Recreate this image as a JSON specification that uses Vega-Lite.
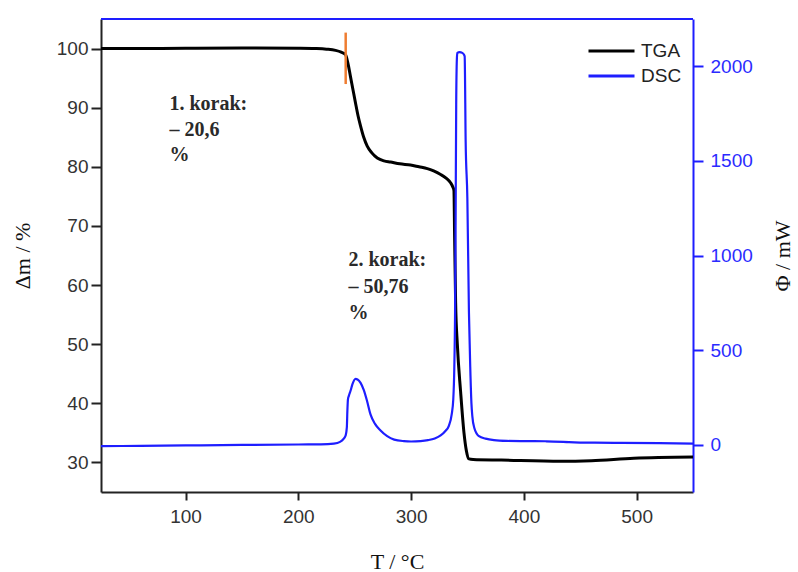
{
  "$schema": "https://vega.github.io/schema/vega-lite/v6.json",
  "width": 592,
  "height": 473,
  "autosize": {"type": "none"},
  "padding": {"left": 101, "top": 19, "right": 105, "bottom": 80},
  "background": "white",
  "config": {
    "view": {"stroke": null},
    "axis": {"grid": false, "labelFont": "Liberation Sans", "labelFontSize": 19, "titleFont": "Liberation Serif", "titleFontSize": 22, "titleFontWeight": "normal", "titleColor": "#111"}
  },
  "datasets": {
    "tga": [
      {"T": 25, "dm": 100.0}, {"T": 60, "dm": 100.0}, {"T": 100, "dm": 100.05}, {"T": 150, "dm": 100.1},
      {"T": 200, "dm": 100.05}, {"T": 215, "dm": 100.0}, {"T": 225, "dm": 99.9}, {"T": 233, "dm": 99.7},
      {"T": 238, "dm": 99.4}, {"T": 241.8, "dm": 99.0}, {"T": 244, "dm": 97.5}, {"T": 246.2, "dm": 95.3},
      {"T": 248.5, "dm": 93.0}, {"T": 250.7, "dm": 90.8}, {"T": 253, "dm": 88.6}, {"T": 255.2, "dm": 86.9},
      {"T": 258, "dm": 85.0}, {"T": 261.1, "dm": 83.5}, {"T": 265, "dm": 82.4}, {"T": 270, "dm": 81.5},
      {"T": 276, "dm": 81.0}, {"T": 281.8, "dm": 80.8}, {"T": 290, "dm": 80.5}, {"T": 299.5, "dm": 80.3},
      {"T": 307, "dm": 80.0}, {"T": 314.4, "dm": 79.7}, {"T": 320, "dm": 79.3}, {"T": 326.2, "dm": 78.7},
      {"T": 331, "dm": 78.1}, {"T": 335, "dm": 77.3}, {"T": 337, "dm": 76.6}, {"T": 338, "dm": 76.0},
      {"T": 338.6, "dm": 68}, {"T": 339.5, "dm": 57}, {"T": 341, "dm": 50}, {"T": 343.9, "dm": 42},
      {"T": 346.9, "dm": 35}, {"T": 349, "dm": 32}, {"T": 351.3, "dm": 30.6}, {"T": 355, "dm": 30.5},
      {"T": 380, "dm": 30.4}, {"T": 432.7, "dm": 30.2}, {"T": 460, "dm": 30.3}, {"T": 497.5, "dm": 30.7},
      {"T": 550, "dm": 30.9}
    ],
    "dsc": [
      {"T": 25, "phi": -8}, {"T": 60, "phi": -6}, {"T": 100, "phi": -4}, {"T": 150, "phi": -1},
      {"T": 200, "phi": 1}, {"T": 220, "phi": 2}, {"T": 231.5, "phi": 6}, {"T": 237, "phi": 15},
      {"T": 240.3, "phi": 32}, {"T": 242, "phi": 50}, {"T": 243, "phi": 90}, {"T": 243.5, "phi": 180},
      {"T": 244, "phi": 240}, {"T": 244.8, "phi": 258}, {"T": 246.3, "phi": 285}, {"T": 248, "phi": 320},
      {"T": 250.7, "phi": 348}, {"T": 252.5, "phi": 345}, {"T": 255.2, "phi": 327}, {"T": 258, "phi": 290},
      {"T": 261, "phi": 230}, {"T": 264, "phi": 160}, {"T": 268, "phi": 110}, {"T": 272.9, "phi": 75},
      {"T": 278.8, "phi": 45}, {"T": 285, "phi": 27}, {"T": 293.6, "phi": 19}, {"T": 300, "phi": 17},
      {"T": 308.4, "phi": 19}, {"T": 315, "phi": 24}, {"T": 321, "phi": 33}, {"T": 326.2, "phi": 49},
      {"T": 330, "phi": 70}, {"T": 333.5, "phi": 100}, {"T": 336, "phi": 160}, {"T": 337.4, "phi": 239},
      {"T": 338.3, "phi": 400}, {"T": 339, "phi": 700}, {"T": 339.5, "phi": 1200}, {"T": 340, "phi": 1800},
      {"T": 340.6, "phi": 2040}, {"T": 341, "phi": 2071}, {"T": 343, "phi": 2075}, {"T": 345.4, "phi": 2071},
      {"T": 346.5, "phi": 2065}, {"T": 347.5, "phi": 2053}, {"T": 348.4, "phi": 1600}, {"T": 349.9, "phi": 1300},
      {"T": 351.3, "phi": 700}, {"T": 352.5, "phi": 400}, {"T": 353.5, "phi": 220}, {"T": 354.3, "phi": 151},
      {"T": 356, "phi": 90}, {"T": 360.2, "phi": 45}, {"T": 366, "phi": 32}, {"T": 373.5, "phi": 24},
      {"T": 385, "phi": 20}, {"T": 397.2, "phi": 19}, {"T": 409, "phi": 19}, {"T": 420, "phi": 18},
      {"T": 440, "phi": 14}, {"T": 453.4, "phi": 11}, {"T": 480, "phi": 10}, {"T": 520, "phi": 8},
      {"T": 550, "phi": 6}
    ],
    "notes": [
      {"T": 85.7, "dm": 90.7, "label": "1. korak:"},
      {"T": 85.7, "dm": 86.3, "label": "– 20,6"},
      {"T": 85.7, "dm": 82.0, "label": "%"},
      {"T": 244.4, "dm": 64.2, "label": "2. korak:"},
      {"T": 244.4, "dm": 59.6, "label": "– 50,76"},
      {"T": 244.4, "dm": 55.2, "label": "%"}
    ],
    "onset": [{"T": 242, "dm": 94, "dm2": 102.7}],
    "frame": [{"T": 25, "T2": 550, "phi": 2250}]
  },
  "encoding": {
    "x": {
      "field": "T", "type": "quantitative",
      "scale": {"domain": [25, 550], "nice": false, "zero": false},
      "axis": {"values": [100, 200, 300, 400, 500], "title": "T / °C", "tickSize": 8, "tickWidth": 2, "domainWidth": 2, "domainColor": "#222", "tickColor": "#222", "labelColor": "#333", "labelPadding": 7, "titlePadding": 25}
    }
  },
  "layer": [
    {
      "layer": [
        {
          "data": {"name": "tga"},
          "mark": {"type": "line", "strokeWidth": 3, "interpolate": "monotone"},
          "encoding": {
            "y": {
              "field": "dm", "type": "quantitative",
              "scale": {"domain": [25, 105], "nice": false, "zero": false},
              "axis": {"orient": "left", "values": [30, 40, 50, 60, 70, 80, 90, 100], "title": "Δm / %", "tickSize": 10, "tickWidth": 2, "domainWidth": 2, "domainColor": "#222", "tickColor": "#222", "labelColor": "#333", "labelPadding": 3, "titlePadding": 22}
            },
            "color": {
              "datum": "TGA",
              "scale": {"domain": ["TGA", "DSC"], "range": ["#000000", "#1e1eff"]},
              "legend": {"orient": "none", "legendX": 486, "legendY": 19, "title": null, "symbolType": "M-1,0H3", "symbolSize": 529, "symbolStrokeWidth": 3, "labelOffset": 28, "labelFont": "Liberation Sans", "labelFontSize": 19, "labelColor": "#222", "rowPadding": 2, "padding": 0}
            }
          }
        },
        {
          "data": {"name": "onset"},
          "mark": {"type": "rule", "color": "#ef7d31", "strokeWidth": 2.5},
          "encoding": {
            "y": {"field": "dm", "type": "quantitative", "axis": {"title": "Δm / %"}},
            "y2": {"field": "dm2"}
          }
        },
        {
          "data": {"name": "notes"},
          "mark": {"type": "text", "align": "left", "baseline": "middle", "font": "Liberation Serif", "fontSize": 20, "fontWeight": "bold", "color": "#2a2a2a"},
          "encoding": {
            "y": {"field": "dm", "type": "quantitative", "axis": {"title": "Δm / %"}},
            "text": {"field": "label"}
          }
        }
      ]
    },
    {
      "layer": [
        {
          "data": {"name": "dsc"},
          "mark": {"type": "line", "strokeWidth": 2.2, "interpolate": "monotone"},
          "encoding": {
            "y": {
              "field": "phi", "type": "quantitative",
              "scale": {"domain": [-250, 2250], "nice": false, "zero": false},
              "axis": {"orient": "right", "values": [0, 500, 1000, 1500, 2000], "format": "d", "title": "Φ / mW", "titleAngle": 270, "tickSize": 10, "tickWidth": 2, "domainWidth": 2, "domainColor": "#1e1eff", "tickColor": "#1e1eff", "labelColor": "#2b2bff", "labelPadding": 7, "titlePadding": 42}
            },
            "color": {"datum": "DSC"}
          }
        },
        {
          "data": {"name": "frame"},
          "mark": {"type": "rule", "color": "#1e1eff", "strokeWidth": 2},
          "encoding": {
            "x2": {"field": "T2"},
            "y": {"field": "phi", "type": "quantitative", "axis": {"title": "Φ / mW"}}
          }
        }
      ]
    }
  ],
  "resolve": {"scale": {"y": "independent"}}
}
